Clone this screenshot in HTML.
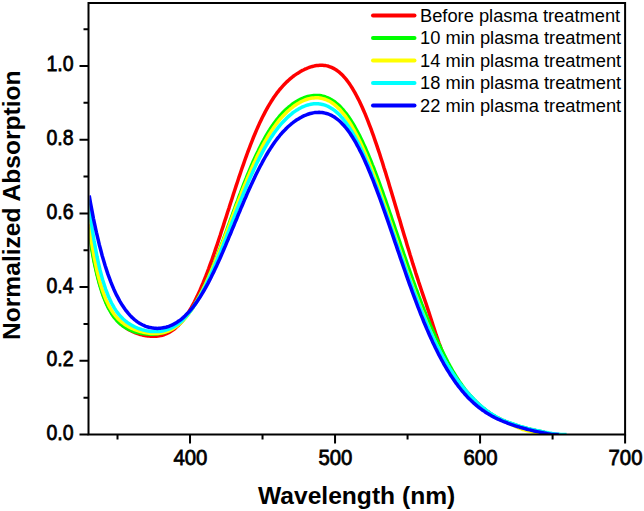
<!DOCTYPE html>
<html><head><meta charset="utf-8"><style>
html,body{margin:0;padding:0;background:#fff;}
svg{display:block;}
text{font-family:"Liberation Sans",sans-serif;fill:#000;}
.tl{font-size:21px;font-weight:normal;stroke:#000;stroke-width:0.75px;}
.ttl{font-size:24.6px;font-weight:bold;}
.lg{font-size:18.3px;}
</style></head><body>
<svg width="644" height="511" viewBox="0 0 644 511">
<defs><clipPath id="cp"><rect x="89.5" y="4" width="534.6" height="430.5"/></clipPath></defs>
<g clip-path="url(#cp)">
<path d="M88.3 224.4 L89.8 234.6 L91.2 243.9 L92.7 252.3 L94.1 260.1 L95.6 267.1 L97.0 273.4 L98.5 279.2 L99.9 284.5 L101.4 289.3 L102.8 293.7 L104.3 297.6 L105.7 301.2 L107.2 304.5 L108.6 307.5 L110.1 310.2 L111.5 312.6 L113.0 314.8 L114.4 316.9 L115.9 318.7 L117.3 320.4 L118.8 322.0 L120.2 323.4 L121.7 324.7 L123.1 325.9 L124.6 326.9 L126.0 327.9 L127.5 328.9 L128.9 329.7 L130.4 330.5 L131.8 331.2 L133.3 331.9 L134.7 332.5 L136.2 333.0 L137.6 333.6 L139.1 334.0 L140.5 334.5 L142.0 334.8 L143.4 335.2 L144.9 335.5 L146.3 335.8 L147.8 336.0 L149.2 336.1 L150.7 336.3 L152.1 336.3 L153.6 336.3 L155.0 336.3 L156.5 336.2 L157.9 336.1 L159.4 335.8 L160.8 335.6 L162.3 335.2 L163.7 334.8 L165.2 334.2 L166.6 333.6 L168.1 333.0 L169.5 332.2 L171.0 331.3 L172.4 330.4 L173.9 329.3 L175.3 328.1 L176.8 326.8 L178.2 325.5 L179.7 323.9 L181.1 322.3 L182.6 320.6 L184.0 318.7 L185.5 316.8 L186.9 314.6 L188.4 312.4 L189.8 310.1 L191.3 307.6 L192.7 305.0 L194.2 302.3 L195.6 299.4 L197.1 296.4 L198.5 293.4 L200.0 290.2 L201.4 286.8 L202.9 283.4 L204.3 279.8 L205.8 276.2 L207.2 272.5 L208.7 268.6 L210.1 264.7 L211.6 260.7 L213.0 256.6 L214.5 252.4 L215.9 248.1 L217.4 243.8 L218.8 239.5 L220.3 235.1 L221.7 230.6 L223.2 226.1 L224.6 221.6 L226.1 217.1 L227.5 212.6 L229.0 208.1 L230.4 203.5 L231.9 199.0 L233.3 194.5 L234.8 190.0 L236.2 185.6 L237.7 181.2 L239.1 176.8 L240.6 172.5 L242.0 168.3 L243.5 164.1 L244.9 160.0 L246.4 155.9 L247.8 152.0 L249.3 148.1 L250.7 144.3 L252.2 140.6 L253.6 137.0 L255.1 133.5 L256.5 130.1 L258.0 126.8 L259.4 123.6 L260.9 120.5 L262.3 117.5 L263.8 114.7 L265.2 111.9 L266.7 109.2 L268.1 106.6 L269.6 104.1 L271.0 101.8 L272.5 99.5 L273.9 97.3 L275.4 95.2 L276.8 93.2 L278.3 91.3 L279.7 89.5 L281.2 87.8 L282.7 86.1 L284.2 84.5 L285.7 83.0 L287.1 81.6 L288.6 80.2 L290.1 78.9 L291.6 77.7 L293.0 76.5 L294.5 75.4 L296.0 74.4 L297.5 73.4 L299.0 72.5 L300.4 71.6 L301.9 70.7 L303.4 70.0 L304.9 69.2 L306.4 68.6 L307.8 68.0 L309.3 67.4 L310.8 66.9 L312.3 66.5 L313.8 66.1 L315.2 65.8 L316.7 65.6 L318.2 65.4 L319.7 65.3 L321.2 65.3 L322.6 65.3 L324.1 65.4 L325.6 65.6 L327.1 65.9 L328.6 66.3 L330.0 66.8 L331.5 67.4 L333.0 68.1 L334.5 68.9 L335.9 69.8 L337.4 70.8 L338.9 71.9 L340.4 73.2 L341.8 74.6 L343.3 76.1 L344.7 77.7 L346.2 79.4 L347.6 81.3 L349.1 83.3 L350.5 85.4 L352.0 87.7 L353.4 90.1 L354.9 92.6 L356.3 95.3 L357.8 98.1 L359.3 101.0 L360.7 104.0 L362.2 107.2 L363.6 110.5 L365.1 113.9 L366.5 117.4 L368.0 121.1 L369.4 124.8 L370.9 128.7 L372.3 132.6 L373.8 136.7 L375.2 140.9 L376.7 145.1 L378.1 149.4 L379.6 153.8 L381.0 158.3 L382.5 162.8 L383.9 167.5 L385.4 172.1 L386.8 176.8 L388.3 181.6 L389.7 186.4 L391.2 191.2 L392.6 196.1 L394.1 201.0 L395.5 205.8 L397.0 210.7 L398.4 215.7 L399.9 220.6 L401.3 225.5 L402.8 230.4 L404.2 235.2 L405.7 240.1 L407.1 244.9 L408.6 249.7 L410.0 254.5 L411.5 259.2 L412.9 263.9 L414.4 268.5 L415.8 273.1 L417.3 277.6 L418.7 282.1 L420.2 286.5 L421.6 290.8 L423.1 295.1 L424.5 299.3 L426.0 303.5 L427.4 307.9 L428.9 312.3 L430.3 316.8 L431.8 321.3 L433.2 325.8 L434.7 330.3 L436.1 334.7 L437.6 338.9 L439.0 343.1 L440.5 347.0 L441.9 350.9 L443.4 354.5 L444.8 358.0 L446.3 361.3 L447.7 364.3 L449.2 367.3 L450.6 370.0 L452.1 372.5 L453.5 374.8 L455.0 377.0 L456.4 379.1 L457.9 381.1 L459.3 383.0 L460.8 384.9 L462.2 386.7 L463.7 388.5 L465.1 390.2 L466.6 391.9 L468.0 393.5 L469.5 395.1 L470.9 396.7 L472.4 398.2 L473.8 399.7 L475.3 401.2 L476.7 402.6 L478.2 403.9 L479.6 405.3 L481.1 406.5 L482.5 407.8 L484.0 408.9 L485.4 410.1 L486.9 411.2 L488.3 412.2 L489.8 413.3 L491.2 414.2 L492.7 415.2 L494.1 416.0 L495.6 416.9 L497.0 417.7 L498.5 418.4 L499.9 419.2 L501.4 419.9 L502.8 420.5 L504.3 421.1 L505.7 421.7 L507.2 422.3 L508.6 422.9 L510.1 423.4 L511.5 423.9 L513.0 424.4 L514.4 424.9 L515.9 425.4 L517.3 425.9 L518.8 426.3 L520.2 426.8 L521.7 427.2 L523.1 427.6 L524.6 428.0 L526.0 428.4 L527.5 428.8 L528.9 429.1 L530.4 429.5 L531.8 429.8 L533.3 430.2 L534.7 430.5 L536.2 430.8 L537.6 431.1 L539.1 431.4 L540.5 431.7 L542.0 432.0 L543.4 432.3 L544.9 432.6" fill="none" stroke="#ff0000" stroke-width="3.5" stroke-linejoin="round"/>
<path d="M88.3 227.6 L89.8 237.3 L91.2 246.2 L92.7 254.4 L94.1 261.8 L95.6 268.6 L97.0 274.9 L98.5 280.6 L99.9 285.7 L101.4 290.5 L102.8 294.8 L104.3 298.7 L105.7 302.2 L107.2 305.5 L108.6 308.4 L110.1 311.0 L111.5 313.5 L113.0 315.7 L114.4 317.6 L115.9 319.4 L117.3 321.0 L118.8 322.5 L120.2 323.8 L121.7 325.0 L123.1 326.1 L124.6 327.1 L126.0 328.0 L127.5 328.8 L128.9 329.5 L130.4 330.2 L131.8 330.7 L133.3 331.3 L134.7 331.8 L136.2 332.2 L137.6 332.6 L139.1 332.9 L140.5 333.2 L142.0 333.4 L143.4 333.7 L144.9 333.8 L146.3 334.0 L147.8 334.1 L149.2 334.2 L150.7 334.2 L152.1 334.2 L153.6 334.2 L155.0 334.1 L156.5 333.9 L157.9 333.8 L159.4 333.5 L160.8 333.3 L162.3 332.9 L163.7 332.5 L165.2 332.1 L166.6 331.5 L168.1 331.0 L169.5 330.3 L171.0 329.6 L172.4 328.7 L173.9 327.8 L175.3 326.9 L176.8 325.8 L178.2 324.6 L179.7 323.4 L181.1 322.0 L182.6 320.6 L184.0 319.0 L185.5 317.4 L186.9 315.6 L188.4 313.7 L189.8 311.8 L191.3 309.7 L192.7 307.5 L194.2 305.2 L195.6 302.8 L197.1 300.3 L198.5 297.7 L200.0 295.0 L201.4 292.2 L202.9 289.3 L204.3 286.2 L205.8 283.1 L207.2 279.9 L208.7 276.6 L210.1 273.3 L211.6 269.8 L213.0 266.3 L214.5 262.7 L215.9 259.0 L217.4 255.3 L218.8 251.5 L220.3 247.7 L221.7 243.8 L223.2 239.9 L224.6 236.0 L226.1 232.0 L227.5 228.1 L229.0 224.1 L230.4 220.1 L231.9 216.1 L233.3 212.1 L234.8 208.2 L236.2 204.2 L237.7 200.3 L239.1 196.4 L240.6 192.6 L242.0 188.8 L243.5 185.0 L244.9 181.3 L246.4 177.7 L247.8 174.1 L249.3 170.6 L250.7 167.2 L252.2 163.8 L253.6 160.5 L255.1 157.3 L256.5 154.2 L258.0 151.2 L259.4 148.2 L260.9 145.3 L262.3 142.5 L263.8 139.9 L265.2 137.2 L266.7 134.7 L268.1 132.3 L269.6 130.0 L271.0 127.7 L272.5 125.6 L273.9 123.5 L275.4 121.5 L276.8 119.6 L278.3 117.8 L279.7 116.0 L281.2 114.4 L282.7 112.8 L284.2 111.3 L285.7 109.8 L287.1 108.5 L288.6 107.2 L290.1 106.0 L291.6 104.8 L293.0 103.7 L294.5 102.7 L296.0 101.8 L297.5 100.9 L299.0 100.1 L300.4 99.3 L301.9 98.6 L303.4 98.0 L304.9 97.5 L306.4 97.0 L307.8 96.5 L309.3 96.2 L310.8 95.9 L312.3 95.7 L313.8 95.5 L315.2 95.4 L316.7 95.4 L318.2 95.5 L319.7 95.6 L321.2 95.8 L322.6 96.1 L324.1 96.5 L325.6 97.0 L327.1 97.6 L328.6 98.2 L330.0 98.9 L331.5 99.8 L333.0 100.7 L334.5 101.7 L335.9 102.9 L337.4 104.1 L338.9 105.4 L340.4 106.8 L341.8 108.4 L343.3 110.0 L344.7 111.8 L346.2 113.6 L347.6 115.6 L349.1 117.6 L350.5 119.8 L352.0 122.1 L353.4 124.5 L354.9 127.0 L356.3 129.6 L357.8 132.3 L359.3 135.1 L360.7 138.0 L362.2 141.0 L363.6 144.1 L365.1 147.3 L366.5 150.6 L368.0 154.0 L369.4 157.4 L370.9 161.0 L372.3 164.6 L373.8 168.2 L375.2 172.0 L376.7 175.8 L378.1 179.7 L379.6 183.7 L381.0 187.6 L382.5 191.7 L383.9 195.8 L385.4 199.9 L386.8 204.1 L388.3 208.3 L389.7 212.5 L391.2 216.7 L392.6 221.0 L394.1 225.3 L395.5 229.5 L397.0 233.8 L398.4 238.1 L399.9 242.4 L401.3 246.7 L402.8 250.9 L404.2 255.2 L405.7 259.4 L407.1 263.6 L408.6 267.8 L410.0 271.9 L411.5 276.0 L412.9 280.1 L414.4 284.1 L415.8 288.1 L417.3 292.0 L418.7 295.9 L420.2 299.8 L421.6 303.6 L423.1 307.3 L424.5 311.0 L426.0 314.6 L427.4 318.2 L428.9 321.7 L430.3 325.1 L431.8 328.5 L433.2 331.8 L434.7 335.0 L436.1 338.2 L437.6 341.3 L439.0 344.4 L440.5 347.4 L441.9 350.4 L443.4 353.3 L444.8 356.2 L446.3 359.0 L447.7 361.8 L449.2 364.5 L450.6 367.2 L452.1 369.8 L453.5 372.3 L455.0 374.7 L456.4 377.0 L457.9 379.3 L459.3 381.5 L460.8 383.6 L462.2 385.6 L463.7 387.6 L465.1 389.5 L466.6 391.3 L468.0 393.0 L469.5 394.7 L470.9 396.3 L472.4 397.9 L473.8 399.5 L475.3 400.9 L476.7 402.4 L478.2 403.7 L479.6 405.1 L481.1 406.3 L482.5 407.6 L484.0 408.7 L485.4 409.9 L486.9 411.0 L488.3 412.0 L489.8 413.1 L491.2 414.0 L492.7 415.0 L494.1 415.8 L495.6 416.7 L497.0 417.5 L498.5 418.2 L499.9 419.0 L501.4 419.7 L502.8 420.3 L504.3 420.9 L505.7 421.5 L507.2 422.1 L508.6 422.7 L510.1 423.2 L511.5 423.7 L513.0 424.2 L514.4 424.7 L515.9 425.2 L517.3 425.7 L518.8 426.1 L520.2 426.6 L521.7 427.0 L523.1 427.4 L524.6 427.8 L526.0 428.2 L527.5 428.6 L528.9 428.9 L530.4 429.3 L531.8 429.6 L533.3 430.0 L534.7 430.3 L536.2 430.6 L537.6 430.9 L539.1 431.2 L540.5 431.5 L542.0 431.8 L543.4 432.1 L544.9 432.4" fill="none" stroke="#00ff00" stroke-width="3.5" stroke-linejoin="round"/>
<path d="M88.3 219.1 L89.8 229.9 L91.2 239.7 L92.7 248.5 L94.1 256.6 L95.6 263.9 L97.0 270.5 L98.5 276.5 L99.9 281.9 L101.4 286.8 L102.8 291.2 L104.3 295.2 L105.7 298.9 L107.2 302.1 L108.6 305.1 L110.1 307.8 L111.5 310.2 L113.0 312.5 L114.4 314.5 L115.9 316.3 L117.3 317.9 L118.8 319.4 L120.2 320.8 L121.7 322.1 L123.1 323.2 L124.6 324.3 L126.0 325.2 L127.5 326.1 L128.9 326.9 L130.4 327.7 L131.8 328.4 L133.3 329.0 L134.7 329.6 L136.2 330.1 L137.6 330.6 L139.1 331.1 L140.5 331.5 L142.0 331.9 L143.4 332.2 L144.9 332.6 L146.3 332.8 L147.8 333.1 L149.2 333.2 L150.7 333.4 L152.1 333.5 L153.6 333.6 L155.0 333.6 L156.5 333.5 L157.9 333.4 L159.4 333.3 L160.8 333.1 L162.3 332.8 L163.7 332.5 L165.2 332.1 L166.6 331.6 L168.1 331.1 L169.5 330.4 L171.0 329.7 L172.4 329.0 L173.9 328.1 L175.3 327.1 L176.8 326.1 L178.2 324.9 L179.7 323.7 L181.1 322.3 L182.6 320.9 L184.0 319.3 L185.5 317.7 L186.9 315.9 L188.4 314.1 L189.8 312.1 L191.3 310.0 L192.7 307.8 L194.2 305.5 L195.6 303.2 L197.1 300.7 L198.5 298.1 L200.0 295.4 L201.4 292.6 L202.9 289.7 L204.3 286.7 L205.8 283.7 L207.2 280.5 L208.7 277.3 L210.1 274.0 L211.6 270.6 L213.0 267.1 L214.5 263.6 L215.9 260.0 L217.4 256.4 L218.8 252.7 L220.3 248.9 L221.7 245.2 L223.2 241.4 L224.6 237.6 L226.1 233.7 L227.5 229.8 L229.0 226.0 L230.4 222.1 L231.9 218.2 L233.3 214.4 L234.8 210.5 L236.2 206.7 L237.7 202.9 L239.1 199.1 L240.6 195.4 L242.0 191.7 L243.5 188.0 L244.9 184.4 L246.4 180.9 L247.8 177.4 L249.3 174.0 L250.7 170.6 L252.2 167.3 L253.6 164.1 L255.1 161.0 L256.5 157.9 L258.0 154.9 L259.4 152.0 L260.9 149.1 L262.3 146.4 L263.8 143.7 L265.2 141.1 L266.7 138.6 L268.1 136.2 L269.6 133.8 L271.0 131.6 L272.5 129.4 L273.9 127.3 L275.4 125.3 L276.8 123.3 L278.3 121.4 L279.7 119.7 L281.2 117.9 L282.7 116.3 L284.2 114.7 L285.7 113.2 L287.1 111.8 L288.6 110.5 L290.1 109.2 L291.6 108.0 L293.0 106.8 L294.5 105.7 L296.0 104.7 L297.5 103.8 L299.0 102.9 L300.4 102.1 L301.9 101.3 L303.4 100.7 L304.9 100.0 L306.4 99.5 L307.8 99.0 L309.3 98.6 L310.8 98.3 L312.3 98.1 L313.8 97.9 L315.2 97.8 L316.7 97.8 L318.2 97.8 L319.7 98.0 L321.2 98.2 L322.6 98.6 L324.1 99.0 L325.6 99.5 L327.1 100.1 L328.6 100.8 L330.0 101.6 L331.5 102.5 L333.0 103.5 L334.5 104.6 L335.9 105.8 L337.4 107.2 L338.9 108.6 L340.4 110.1 L341.8 111.8 L343.3 113.6 L344.7 115.4 L346.2 117.4 L347.6 119.5 L349.1 121.7 L350.5 124.0 L352.0 126.5 L353.4 129.0 L354.9 131.7 L356.3 134.4 L357.8 137.3 L359.3 140.2 L360.7 143.3 L362.2 146.5 L363.6 149.7 L365.1 153.0 L366.5 156.5 L368.0 160.0 L369.4 163.6 L370.9 167.2 L372.3 171.0 L373.8 174.8 L375.2 178.7 L376.7 182.6 L378.1 186.6 L379.6 190.6 L381.0 194.7 L382.5 198.9 L383.9 203.0 L385.4 207.2 L386.8 211.4 L388.3 215.7 L389.7 220.0 L391.2 224.2 L392.6 228.5 L394.1 232.8 L395.5 237.1 L397.0 241.4 L398.4 245.7 L399.9 250.0 L401.3 254.2 L402.8 258.4 L404.2 262.6 L405.7 266.8 L407.1 271.0 L408.6 275.1 L410.0 279.2 L411.5 283.2 L412.9 287.2 L414.4 291.1 L415.8 295.0 L417.3 298.9 L418.7 302.7 L420.2 306.4 L421.6 310.1 L423.1 313.7 L424.5 317.3 L426.0 320.8 L427.4 324.3 L428.9 327.7 L430.3 331.1 L431.8 334.3 L433.2 337.6 L434.7 340.7 L436.1 343.8 L437.6 346.8 L439.0 349.7 L440.5 352.6 L441.9 355.4 L443.4 358.1 L444.8 360.7 L446.3 363.3 L447.7 365.8 L449.2 368.2 L450.6 370.6 L452.1 372.8 L453.5 375.1 L455.0 377.2 L456.4 379.3 L457.9 381.3 L459.3 383.2 L460.8 385.1 L462.2 386.9 L463.7 388.7 L465.1 390.4 L466.6 392.1 L468.0 393.7 L469.5 395.3 L470.9 396.9 L472.4 398.4 L473.8 399.9 L475.3 401.4 L476.7 402.8 L478.2 404.1 L479.6 405.5 L481.1 406.7 L482.5 408.0 L484.0 409.1 L485.4 410.3 L486.9 411.4 L488.3 412.4 L489.8 413.5 L491.2 414.4 L492.7 415.4 L494.1 416.2 L495.6 417.1 L497.0 417.9 L498.5 418.6 L499.9 419.4 L501.4 420.1 L502.8 420.7 L504.3 421.3 L505.7 421.9 L507.2 422.6 L508.6 423.2 L510.1 423.9 L511.5 424.6 L513.0 425.2 L514.4 425.9 L515.9 426.6 L517.3 427.2 L518.8 427.8 L520.2 428.4 L521.7 429.0 L523.1 429.5 L524.6 429.9 L526.0 430.3 L527.5 430.7 L528.9 431.0 L530.4 431.4 L531.8 431.7 L533.3 432.1 L534.7 432.4 L536.2 432.7 L537.6 433.0 L539.1 433.3 L540.5 433.6 L542.0 433.9 L543.4 434.2 L544.9 434.5 L546.3 434.6 L547.8 434.6" fill="none" stroke="#ffff00" stroke-width="3.5" stroke-linejoin="round"/>
<path d="M88.3 199.8 L89.8 211.5 L91.2 222.1 L92.7 231.9 L94.1 240.8 L95.6 249.0 L97.0 256.5 L98.5 263.3 L99.9 269.5 L101.4 275.1 L102.8 280.3 L104.3 285.0 L105.7 289.3 L107.2 293.2 L108.6 296.8 L110.1 300.0 L111.5 303.0 L113.0 305.7 L114.4 308.1 L115.9 310.4 L117.3 312.4 L118.8 314.3 L120.2 316.0 L121.7 317.5 L123.1 319.0 L124.6 320.3 L126.0 321.5 L127.5 322.6 L128.9 323.6 L130.4 324.5 L131.8 325.4 L133.3 326.1 L134.7 326.9 L136.2 327.5 L137.6 328.1 L139.1 328.7 L140.5 329.1 L142.0 329.6 L143.4 330.0 L144.9 330.4 L146.3 330.7 L147.8 330.9 L149.2 331.2 L150.7 331.4 L152.1 331.5 L153.6 331.6 L155.0 331.6 L156.5 331.6 L157.9 331.5 L159.4 331.4 L160.8 331.2 L162.3 331.0 L163.7 330.7 L165.2 330.4 L166.6 329.9 L168.1 329.4 L169.5 328.9 L171.0 328.2 L172.4 327.5 L173.9 326.7 L175.3 325.8 L176.8 324.8 L178.2 323.8 L179.7 322.6 L181.1 321.4 L182.6 320.1 L184.0 318.6 L185.5 317.1 L186.9 315.5 L188.4 313.7 L189.8 311.9 L191.3 310.0 L192.7 307.9 L194.2 305.8 L195.6 303.6 L197.1 301.3 L198.5 298.8 L200.0 296.3 L201.4 293.7 L202.9 291.0 L204.3 288.2 L205.8 285.3 L207.2 282.3 L208.7 279.3 L210.1 276.1 L211.6 272.9 L213.0 269.6 L214.5 266.3 L215.9 262.9 L217.4 259.4 L218.8 255.9 L220.3 252.4 L221.7 248.8 L223.2 245.1 L224.6 241.4 L226.1 237.8 L227.5 234.0 L229.0 230.3 L230.4 226.6 L231.9 222.8 L233.3 219.1 L234.8 215.4 L236.2 211.7 L237.7 208.0 L239.1 204.3 L240.6 200.7 L242.0 197.1 L243.5 193.5 L244.9 190.0 L246.4 186.5 L247.8 183.1 L249.3 179.7 L250.7 176.4 L252.2 173.2 L253.6 170.0 L255.1 166.9 L256.5 163.8 L258.0 160.9 L259.4 158.0 L260.9 155.1 L262.3 152.4 L263.8 149.7 L265.2 147.1 L266.7 144.6 L268.1 142.2 L269.6 139.9 L271.0 137.6 L272.5 135.4 L273.9 133.3 L275.4 131.3 L276.8 129.3 L278.3 127.4 L279.7 125.6 L281.2 123.9 L282.7 122.3 L284.2 120.7 L285.7 119.2 L287.1 117.8 L288.6 116.4 L290.1 115.1 L291.6 113.9 L293.0 112.7 L294.5 111.6 L296.0 110.6 L297.5 109.7 L299.0 108.8 L300.4 108.0 L301.9 107.2 L303.4 106.6 L304.9 106.0 L306.4 105.4 L307.8 105.0 L309.3 104.6 L310.8 104.2 L312.3 104.0 L313.8 103.8 L315.2 103.7 L316.7 103.7 L318.2 103.8 L319.7 103.9 L321.2 104.2 L322.6 104.5 L324.1 104.9 L325.6 105.4 L327.1 106.0 L328.6 106.7 L330.0 107.5 L331.5 108.4 L333.0 109.3 L334.5 110.4 L335.9 111.6 L337.4 112.9 L338.9 114.3 L340.4 115.8 L341.8 117.5 L343.3 119.2 L344.7 121.0 L346.2 123.0 L347.6 125.0 L349.1 127.2 L350.5 129.4 L352.0 131.8 L353.4 134.3 L354.9 136.9 L356.3 139.6 L357.8 142.4 L359.3 145.2 L360.7 148.2 L362.2 151.3 L363.6 154.5 L365.1 157.7 L366.5 161.1 L368.0 164.5 L369.4 168.0 L370.9 171.6 L372.3 175.3 L373.8 179.0 L375.2 182.8 L376.7 186.6 L378.1 190.5 L379.6 194.4 L381.0 198.4 L382.5 202.5 L383.9 206.5 L385.4 210.6 L386.8 214.8 L388.3 218.9 L389.7 223.1 L391.2 227.3 L392.6 231.5 L394.1 235.7 L395.5 239.9 L397.0 244.0 L398.4 248.2 L399.9 252.4 L401.3 256.6 L402.8 260.7 L404.2 264.8 L405.7 268.9 L407.1 273.0 L408.6 277.0 L410.0 281.0 L411.5 284.9 L412.9 288.9 L414.4 292.7 L415.8 296.5 L417.3 300.3 L418.7 304.0 L420.2 307.7 L421.6 311.3 L423.1 314.8 L424.5 318.3 L426.0 321.7 L427.4 325.1 L428.9 328.4 L430.3 331.6 L431.8 334.8 L433.2 337.9 L434.7 341.0 L436.1 344.0 L437.6 346.9 L439.0 349.7 L440.5 352.5 L441.9 355.2 L443.4 357.8 L444.8 360.4 L446.3 362.9 L447.7 365.4 L449.2 367.7 L450.6 370.1 L452.1 372.3 L453.5 374.5 L455.0 376.6 L456.4 378.7 L457.9 380.7 L459.3 382.6 L460.8 384.5 L462.2 386.3 L463.7 388.1 L465.1 389.8 L466.6 391.5 L468.0 393.1 L469.5 394.7 L470.9 396.3 L472.4 397.8 L473.8 399.3 L475.3 400.8 L476.7 402.2 L478.2 403.5 L479.6 404.9 L481.1 406.1 L482.5 407.4 L484.0 408.5 L485.4 409.7 L486.9 410.8 L488.3 411.8 L489.8 412.9 L491.2 413.8 L492.7 414.8 L494.1 415.6 L495.6 416.5 L497.0 417.3 L498.5 418.0 L499.9 418.8 L501.4 419.5 L502.8 420.1 L504.3 420.7 L505.7 421.3 L507.2 421.9 L508.6 422.5 L510.1 423.0 L511.5 423.5 L513.0 424.0 L514.4 424.5 L515.9 425.0 L517.3 425.5 L518.8 425.9 L520.2 426.4 L521.7 426.8 L523.1 427.2 L524.6 427.6 L526.0 428.0 L527.5 428.4 L528.9 428.7 L530.4 429.1 L531.8 429.4 L533.3 429.8 L534.7 430.1 L536.2 430.4 L537.6 430.7 L539.1 431.0 L540.5 431.3 L542.0 431.6 L543.4 431.9 L544.9 432.2 L546.3 432.4 L547.8 432.7 L549.2 433.0 L550.7 433.2 L552.1 433.5 L553.6 433.7 L555.0 433.9 L556.5 434.1 L557.9 434.2 L559.4 434.3 L560.8 434.4 L562.3 434.5 L563.7 434.6 L565.2 434.6 L566.6 434.6" fill="none" stroke="#00ffff" stroke-width="3.5" stroke-linejoin="round"/>
<path d="M89.2 195.5 L90.6 203.6 L92.1 211.4 L93.5 218.8 L95.0 225.8 L96.4 232.4 L97.9 238.7 L99.3 244.7 L100.8 250.3 L102.2 255.7 L103.7 260.7 L105.1 265.5 L106.6 270.1 L108.0 274.4 L109.5 278.4 L110.9 282.2 L112.4 285.8 L113.8 289.2 L115.3 292.4 L116.7 295.4 L118.2 298.2 L119.6 300.8 L121.1 303.3 L122.5 305.6 L124.0 307.8 L125.4 309.8 L126.9 311.7 L128.3 313.4 L129.8 315.1 L131.2 316.6 L132.7 318.0 L134.1 319.3 L135.6 320.5 L137.0 321.6 L138.5 322.6 L139.9 323.5 L141.4 324.3 L142.8 325.0 L144.3 325.7 L145.7 326.3 L147.2 326.8 L148.6 327.2 L150.1 327.6 L151.5 327.8 L153.0 328.1 L154.4 328.2 L155.9 328.3 L157.3 328.4 L158.8 328.3 L160.2 328.2 L161.7 328.1 L163.1 327.8 L164.6 327.5 L166.0 327.2 L167.5 326.8 L168.9 326.3 L170.4 325.7 L171.8 325.1 L173.3 324.4 L174.7 323.6 L176.2 322.8 L177.6 321.8 L179.1 320.8 L180.5 319.8 L182.0 318.6 L183.4 317.4 L184.9 316.0 L186.3 314.6 L187.8 313.1 L189.2 311.6 L190.7 309.9 L192.1 308.1 L193.6 306.3 L195.0 304.4 L196.5 302.4 L197.9 300.3 L199.4 298.1 L200.8 295.8 L202.3 293.4 L203.7 291.0 L205.2 288.4 L206.6 285.8 L208.1 283.1 L209.5 280.4 L211.0 277.5 L212.4 274.6 L213.9 271.6 L215.3 268.5 L216.8 265.4 L218.2 262.2 L219.7 259.0 L221.1 255.7 L222.6 252.4 L224.0 249.0 L225.5 245.6 L226.9 242.2 L228.4 238.7 L229.8 235.2 L231.3 231.7 L232.7 228.2 L234.2 224.7 L235.6 221.2 L237.1 217.7 L238.5 214.1 L240.0 210.7 L241.4 207.2 L242.9 203.7 L244.3 200.3 L245.8 197.0 L247.2 193.6 L248.7 190.3 L250.2 187.1 L251.6 183.9 L253.1 180.7 L254.5 177.7 L256.0 174.6 L257.4 171.7 L258.9 168.8 L260.3 166.0 L261.8 163.3 L263.2 160.6 L264.7 158.0 L266.1 155.5 L267.6 153.0 L269.0 150.7 L270.5 148.4 L271.9 146.2 L273.4 144.0 L274.8 142.0 L276.3 140.0 L277.7 138.1 L279.2 136.3 L280.6 134.5 L282.1 132.8 L283.6 131.2 L285.1 129.7 L286.5 128.2 L288.0 126.8 L289.5 125.5 L291.0 124.2 L292.5 123.0 L293.9 121.9 L295.4 120.8 L296.9 119.8 L298.4 118.9 L299.9 118.0 L301.3 117.2 L302.8 116.4 L304.3 115.7 L305.8 115.1 L307.2 114.5 L308.7 114.0 L310.2 113.5 L311.7 113.2 L313.2 112.9 L314.6 112.6 L316.1 112.5 L317.6 112.4 L319.1 112.3 L320.6 112.4 L322.0 112.5 L323.5 112.8 L325.0 113.1 L326.5 113.5 L328.0 113.9 L329.4 114.5 L330.9 115.2 L332.4 115.9 L333.9 116.8 L335.4 117.8 L336.8 118.8 L338.3 120.0 L339.8 121.3 L341.3 122.7 L342.7 124.2 L344.2 125.8 L345.6 127.5 L347.1 129.3 L348.5 131.3 L350.0 133.3 L351.4 135.5 L352.9 137.8 L354.3 140.2 L355.8 142.7 L357.2 145.3 L358.7 148.0 L360.1 150.9 L361.6 153.8 L363.0 156.8 L364.5 160.0 L365.9 163.2 L367.4 166.5 L368.8 170.0 L370.3 173.5 L371.7 177.1 L373.2 180.7 L374.6 184.5 L376.1 188.3 L377.5 192.1 L379.0 196.1 L380.4 200.0 L381.9 204.1 L383.3 208.2 L384.8 212.3 L386.2 216.4 L387.7 220.6 L389.1 224.8 L390.6 229.1 L392.0 233.3 L393.5 237.6 L394.9 241.9 L396.4 246.1 L397.8 250.4 L399.3 254.6 L400.7 258.9 L402.2 263.1 L403.6 267.3 L405.1 271.5 L406.5 275.6 L408.0 279.8 L409.4 283.8 L410.9 287.9 L412.3 291.9 L413.8 295.8 L415.2 299.7 L416.7 303.6 L418.1 307.4 L419.6 311.1 L421.0 314.8 L422.5 318.4 L423.9 322.0 L425.4 325.5 L426.8 328.9 L428.3 332.2 L429.7 335.5 L431.2 338.8 L432.6 341.9 L434.1 345.0 L435.5 348.0 L437.0 350.9 L438.4 353.8 L439.9 356.6 L441.3 359.3 L442.8 362.0 L444.2 364.6 L445.7 367.1 L447.1 369.5 L448.6 371.9 L450.0 374.2 L451.5 376.4 L452.9 378.6 L454.4 380.7 L455.8 382.8 L457.3 384.7 L458.7 386.7 L460.2 388.5 L461.6 390.3 L463.1 392.0 L464.5 393.7 L466.0 395.3 L467.4 396.9 L468.9 398.4 L470.3 399.8 L471.8 401.2 L473.2 402.6 L474.7 403.9 L476.1 405.1 L477.6 406.4 L479.0 407.5 L480.5 408.6 L481.9 409.7 L483.4 410.7 L484.8 411.7 L486.3 412.7 L487.7 413.6 L489.2 414.5 L490.6 415.3 L492.1 416.2 L493.5 416.9 L495.0 417.7 L496.4 418.4 L497.9 419.1 L499.3 419.7 L500.8 420.4 L502.2 421.0 L503.7 421.6 L505.1 422.1 L506.6 422.7 L508.0 423.3 L509.5 423.8 L510.9 424.3 L512.4 424.8 L513.8 425.3 L515.3 425.8 L516.7 426.3 L518.2 426.7 L519.7 427.2 L521.1 427.6 L522.6 428.0 L524.0 428.4 L525.5 428.8 L526.9 429.2 L528.4 429.6 L529.8 429.9 L531.3 430.3 L532.7 430.6 L534.2 431.0 L535.6 431.3 L537.1 431.6 L538.5 431.9 L540.0 432.2 L541.4 432.5 L542.9 432.8 L544.3 433.1 L545.8 433.3 L547.2 433.6 L548.7 433.9 L550.1 434.1 L551.6 434.4 L553.0 434.6 L554.5 434.6 L555.9 434.6 L557.4 434.6 L558.8 434.6" fill="none" stroke="#0000ff" stroke-width="3.5" stroke-linejoin="round"/>
</g>
<path d="M88.5 3 H625.1 V434.5 H88.5 Z" fill="none" stroke="#000" stroke-width="2"/>
<path d="M117.51 434.5 V439.5 M190.02 434.5 V443.5 M262.53 434.5 V439.5 M335.05 434.5 V443.5 M407.56 434.5 V439.5 M480.07 434.5 V443.5 M552.59 434.5 V439.5 M625.10 434.5 V443.5 M88.5 434.50 H79.5 M88.5 397.65 H83.5 M88.5 360.80 H79.5 M88.5 323.95 H83.5 M88.5 287.10 H79.5 M88.5 250.25 H83.5 M88.5 213.40 H79.5 M88.5 176.55 H83.5 M88.5 139.70 H79.5 M88.5 102.85 H83.5 M88.5 66.00 H79.5 M88.5 29.15 H83.5" stroke="#000" stroke-width="2" fill="none"/>
<text x="0" y="0" text-anchor="end" class="tl" transform="translate(73.6 439.90) scale(0.93 1.04)">0.0</text><text x="0" y="0" text-anchor="end" class="tl" transform="translate(73.6 366.20) scale(0.93 1.04)">0.2</text><text x="0" y="0" text-anchor="end" class="tl" transform="translate(73.6 292.50) scale(0.93 1.04)">0.4</text><text x="0" y="0" text-anchor="end" class="tl" transform="translate(73.6 218.80) scale(0.93 1.04)">0.6</text><text x="0" y="0" text-anchor="end" class="tl" transform="translate(73.6 145.10) scale(0.93 1.04)">0.8</text><text x="0" y="0" text-anchor="end" class="tl" transform="translate(73.6 71.40) scale(0.93 1.04)">1.0</text><text x="0" y="0" text-anchor="middle" class="tl" transform="translate(190.42 465.3) scale(0.97 1.03)">400</text><text x="0" y="0" text-anchor="middle" class="tl" transform="translate(335.45 465.3) scale(0.97 1.03)">500</text><text x="0" y="0" text-anchor="middle" class="tl" transform="translate(480.47 465.3) scale(0.97 1.03)">600</text><text x="0" y="0" text-anchor="middle" class="tl" transform="translate(625.50 465.3) scale(0.97 1.03)">700</text>
<text x="258" y="503.5" class="ttl">Wavelength (nm)</text>
<text transform="translate(20.3 340) rotate(-90)" class="ttl">Normalized Absorption</text>
<path d="M373 15.60 H414.5" stroke="#ff0000" stroke-width="4" stroke-linecap="round"/><text x="420" y="21.90" class="lg">Before plasma treatment</text><path d="M373 38.10 H414.5" stroke="#00ff00" stroke-width="4" stroke-linecap="round"/><text x="420" y="44.40" class="lg">10 min plasma treatment</text><path d="M373 60.60 H414.5" stroke="#ffff00" stroke-width="4" stroke-linecap="round"/><text x="420" y="66.90" class="lg">14 min plasma treatment</text><path d="M373 83.10 H414.5" stroke="#00ffff" stroke-width="4" stroke-linecap="round"/><text x="420" y="89.40" class="lg">18 min plasma treatment</text><path d="M373 105.60 H414.5" stroke="#0000ff" stroke-width="4" stroke-linecap="round"/><text x="420" y="111.90" class="lg">22 min plasma treatment</text>
</svg></body></html>
